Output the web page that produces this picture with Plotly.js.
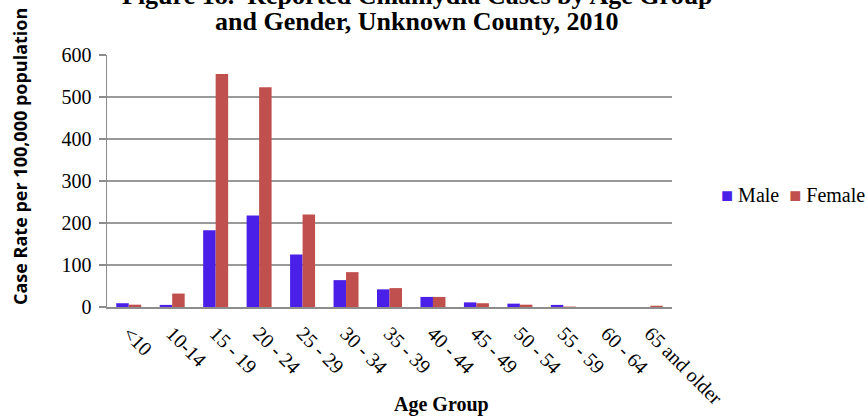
<!DOCTYPE html>
<html>
<head>
<meta charset="utf-8">
<script src="https://cdn.plot.ly/plotly-3.0.1.min.js"></script>
<style>html,body{margin:0;padding:0;background:#fff;}#chart{width:868px;height:418px;}</style>
</head>
<body>
<div id="chart"></div>
<script>
var ageGroups = ["<10", "10-14", "15 - 19", "20 - 24", "25 - 29", "30 - 34", "35 - 39", "40 - 44", "45 - 49", "50 - 54", "55 - 59", "60 - 64", "65 and older"];
var maleRates = [9, 5, 183, 218, 125, 64, 42, 24, 11, 8, 5, 0, 0];
var femaleRates = [5.5, 32, 555, 523, 220, 83, 45, 24, 9, 5.5, 1, 0, 3];
var yTicks = [0, 100, 200, 300, 400, 500, 600];
var titleLines = ["Figure 18.  Reported Chlamydia Cases by Age Group", "and Gender, Unknown County, 2010"];

var serif = "Liberation Serif, Times New Roman, serif";
var maleColor = "#4a1fe8", femaleColor = "#c0504d";
var traces = [
  {type: "bar", name: "Male", x: ageGroups, y: maleRates, marker: {color: maleColor}},
  {type: "bar", name: "Female", x: ageGroups, y: femaleRates, marker: {color: femaleColor}}
];
var L = 107, T = 55, PW = 565, PH = 252;
function px(x) { return (x - L) / PW; }
function py(y) { return (T + PH - y) / PH; }
var layout = {
  width: 868, height: 418,
  margin: {l: 107, r: 196, t: 55, b: 111},
  paper_bgcolor: "#fff", plot_bgcolor: "#fff",
  barmode: "group", bargap: 0.425, bargroupgap: 0,
  showlegend: false,
  font: {family: serif, size: 18, color: "#000"},
  xaxis: {
    type: "category", tickangle: 45, ticks: "", showgrid: false, ticklabelstandoff: 5,
    showline: true, linecolor: "#8c8c8c", linewidth: 2,
    tickfont: {family: serif, size: 20, color: "#000"}
  },
  yaxis: {
    range: [0, 600], tickvals: yTicks, ticks: "outside", ticklen: 7, tickcolor: "#8c8c8c", tickwidth: 1.5,
    ticklabelstandoff: 3,
    showgrid: true, gridcolor: "#999999", gridwidth: 1.5,
    showline: true, linecolor: "#8c8c8c", linewidth: 1.5, zeroline: false,
    tickfont: {family: serif, size: 20, color: "#000"}
  },
  annotations: [
    {text: "<b>" + titleLines[0] + "</b>",
     xref: "paper", yref: "paper", x: px(417), y: 1 + (T - 11.7) / PH, xanchor: "center", yanchor: "bottom",
     showarrow: false, font: {family: serif, size: 26, color: "#000"}},
    {text: "<b>" + titleLines[1] + "</b>",
     xref: "paper", yref: "paper", x: px(417), y: 1 + (T - 37.7) / PH, xanchor: "center", yanchor: "bottom",
     showarrow: false, font: {family: serif, size: 26, color: "#000"}},
    {text: "<b>Case Rate per 100,000 population</b>", textangle: -90,
     xref: "paper", yref: "paper", x: px(20), y: py(157), xanchor: "center", yanchor: "middle",
     showarrow: false, font: {family: "Open Sans, sans-serif", size: 18, color: "#000"}},
    {text: "<b>Age Group</b>",
     xref: "paper", yref: "paper", x: px(441), y: py(404), xanchor: "center", yanchor: "middle",
     showarrow: false, font: {family: serif, size: 20, color: "#000"}},
    {text: "<span style='color:" + maleColor + "'>■</span> Male &nbsp;<span style='color:" + femaleColor + "'>■</span> Female",
     xref: "paper", yref: "paper", x: px(867), y: py(195), xanchor: "right", yanchor: "middle",
     showarrow: false, font: {family: serif, size: 20, color: "#000"}}
  ]
};
Plotly.newPlot("chart", traces, layout, {displayModeBar: false, staticPlot: true});
</script>
</body>
</html>
